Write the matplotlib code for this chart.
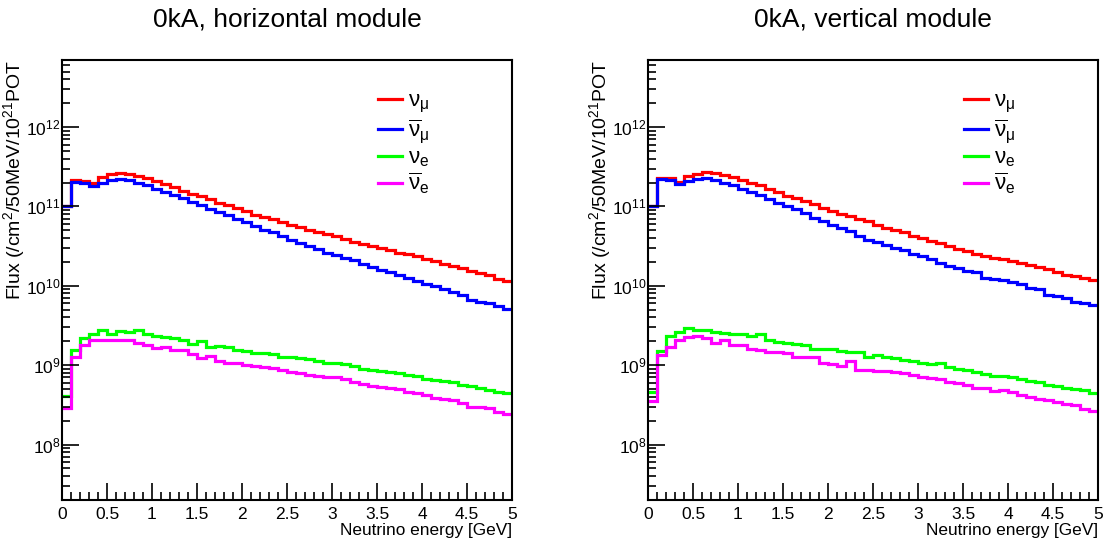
import numpy as np
import matplotlib
matplotlib.use("Agg")
import matplotlib.pyplot as plt
from matplotlib.ticker import MultipleLocator, LogLocator, FuncFormatter, NullFormatter

plt.rcParams['font.family'] = ['Liberation Sans', 'DejaVu Sans']
plt.rcParams['mathtext.fontset'] = 'custom'
plt.rcParams['mathtext.rm'] = 'Liberation Sans'
plt.rcParams['mathtext.it'] = 'Liberation Sans:italic'
plt.rcParams['mathtext.bf'] = 'Liberation Sans:bold'

# ------------------------
# Flux histograms, 0.1 GeV bins from 0 to 5 GeV
# ------------------------
edges = np.linspace(0, 5, 51)

# horizontal module
h_numu = [1.0e11, 2.15e11, 2.1e11, 1.95e11, 2.35e11, 2.55e11, 2.65e11, 2.6e11, 2.45e11, 2.3e11,
          2.09e11, 1.91e11, 1.74e11, 1.58e11, 1.45e11, 1.35e11, 1.23e11, 1.12e11, 1.05e11, 9.55e10,
          8.7e10, 7.9e10, 7.4e10, 6.9e10, 6.3e10, 5.9e10, 5.5e10, 5.1e10, 4.8e10, 4.5e10,
          4.2e10, 3.9e10, 3.6e10, 3.4e10, 3.2e10, 3.0e10, 2.8e10, 2.6e10, 2.5e10, 2.35e10,
          2.2e10, 2.05e10, 1.9e10, 1.8e10, 1.66e10, 1.55e10, 1.45e10, 1.35e10, 1.23e10, 1.15e10]
h_numubar = [1.0e11, 2.05e11, 2.0e11, 1.8e11, 2.0e11, 2.15e11, 2.2e11, 2.15e11, 2.0e11, 1.85e11,
             1.66e11, 1.51e11, 1.38e11, 1.26e11, 1.15e11, 1.05e11, 9.3e10, 8.5e10, 7.8e10, 6.9e10,
             6.3e10, 5.75e10, 5.1e10, 4.7e10, 4.3e10, 3.8e10, 3.5e10, 3.2e10, 2.9e10, 2.6e10,
             2.45e10, 2.25e10, 2.1e10, 1.9e10, 1.75e10, 1.6e10, 1.48e10, 1.35e10, 1.26e10, 1.15e10,
             1.05e10, 9.8e9, 9.1e9, 8.3e9, 7.6e9, 6.6e9, 6.3e9, 6.0e9, 5.5e9, 5.1e9]
h_nue = [4.1e8, 1.55e9, 2.2e9, 2.5e9, 2.75e9, 2.5e9, 2.7e9, 2.6e9, 2.8e9, 2.45e9,
         2.3e9, 2.25e9, 2.2e9, 2.05e9, 1.85e9, 2.0e9, 1.7e9, 1.72e9, 1.68e9, 1.55e9,
         1.52e9, 1.42e9, 1.42e9, 1.37e9, 1.28e9, 1.27e9, 1.22e9, 1.18e9, 1.14e9, 1.08e9,
         1.06e9, 1.03e9, 9.8e8, 9.0e8, 8.8e8, 8.5e8, 8.3e8, 8.0e8, 7.5e8, 7.2e8,
         6.6e8, 6.5e8, 6.4e8, 6.2e8, 5.6e8, 5.4e8, 5.1e8, 4.9e8, 4.6e8, 4.4e8]
h_nuebar = [2.9e8, 1.27e9, 1.8e9, 2.1e9, 2.1e9, 2.08e9, 2.1e9, 2.05e9, 1.88e9, 1.8e9,
            1.65e9, 1.7e9, 1.57e9, 1.55e9, 1.4e9, 1.22e9, 1.32e9, 1.12e9, 1.08e9, 1.05e9,
            1.0e9, 9.7e8, 9.5e8, 9.2e8, 8.7e8, 8.2e8, 7.9e8, 7.6e8, 7.3e8, 7.1e8,
            7.0e8, 6.6e8, 6.2e8, 5.8e8, 5.5e8, 5.3e8, 5.2e8, 5.0e8, 4.6e8, 4.4e8,
            4.2e8, 3.9e8, 3.8e8, 3.6e8, 3.3e8, 3.0e8, 2.95e8, 2.9e8, 2.55e8, 2.45e8]

# vertical module
v_numu = [1.0e11, 2.3e11, 2.3e11, 2.05e11, 2.4e11, 2.6e11, 2.7e11, 2.65e11, 2.5e11, 2.35e11,
          2.15e11, 2.0e11, 1.85e11, 1.65e11, 1.5e11, 1.35e11, 1.27e11, 1.17e11, 1.07e11, 9.6e10,
          8.7e10, 8.1e10, 7.6e10, 7.0e10, 6.5e10, 5.9e10, 5.4e10, 5.0e10, 4.7e10, 4.25e10,
          4.0e10, 3.7e10, 3.45e10, 3.15e10, 2.9e10, 2.75e10, 2.55e10, 2.4e10, 2.25e10, 2.15e10,
          2.05e10, 1.95e10, 1.85e10, 1.75e10, 1.62e10, 1.5e10, 1.38e10, 1.32e10, 1.26e10, 1.2e10]
v_numubar = [1.0e11, 2.2e11, 2.15e11, 1.9e11, 2.1e11, 2.2e11, 2.25e11, 2.15e11, 2.0e11, 1.85e11,
             1.65e11, 1.5e11, 1.38e11, 1.25e11, 1.12e11, 1.0e11, 9.2e10, 8.3e10, 7.2e10, 6.5e10,
             5.9e10, 5.4e10, 4.9e10, 4.2e10, 3.8e10, 3.55e10, 3.25e10, 3.0e10, 2.8e10, 2.55e10,
             2.35e10, 2.15e10, 1.95e10, 1.78e10, 1.66e10, 1.55e10, 1.48e10, 1.26e10, 1.23e10, 1.17e10,
             1.12e10, 1.05e10, 9.5e9, 9.1e9, 7.6e9, 7.4e9, 7.1e9, 6.3e9, 6.0e9, 5.75e9]
v_nue = [4.6e8, 1.5e9, 2.3e9, 2.65e9, 2.9e9, 2.8e9, 2.75e9, 2.6e9, 2.55e9, 2.5e9,
         2.45e9, 2.35e9, 2.45e9, 2.1e9, 1.93e9, 1.9e9, 1.83e9, 1.82e9, 1.62e9, 1.6e9,
         1.6e9, 1.5e9, 1.45e9, 1.45e9, 1.27e9, 1.35e9, 1.27e9, 1.23e9, 1.17e9, 1.12e9,
         1.07e9, 1.02e9, 1.05e9, 9.5e8, 8.9e8, 8.7e8, 8.3e8, 7.8e8, 7.4e8, 7.2e8,
         7.1e8, 6.6e8, 6.3e8, 6.2e8, 5.6e8, 5.4e8, 5.1e8, 5.0e8, 4.8e8, 4.4e8]
v_nuebar = [3.5e8, 1.35e9, 1.67e9, 2.1e9, 2.25e9, 2.35e9, 2.2e9, 1.9e9, 2.1e9, 1.78e9,
            1.8e9, 1.62e9, 1.55e9, 1.48e9, 1.47e9, 1.43e9, 1.27e9, 1.27e9, 1.25e9, 1.07e9,
            1.02e9, 9.8e8, 1.12e9, 8.7e8, 8.6e8, 8.4e8, 8.5e8, 8.3e8, 7.9e8, 7.6e8,
            7.1e8, 6.8e8, 6.6e8, 6.2e8, 5.9e8, 5.6e8, 5.2e8, 5.1e8, 4.7e8, 4.9e8,
            4.6e8, 4.2e8, 4.0e8, 3.8e8, 3.6e8, 3.4e8, 3.2e8, 3.15e8, 2.8e8, 2.65e8]

titles = ["0kA, horizontal module", "0kA, vertical module"]
labels = [r"$\mathrm{\nu}_{\mathrm{\mu}}$", r"$\overline{\mathrm{\nu}}_{\mathrm{\mu}}$",
          r"$\mathrm{\nu}_{\mathrm{e}}$", r"$\overline{\mathrm{\nu}}_{\mathrm{e}}$"]
colors = ["#ff0000", "#0000ff", "#00ff00", "#ff00ff"]

panels = [
    (titles[0], [h_numu, h_numubar, h_nue, h_nuebar]),
    (titles[1], [v_numu, v_numubar, v_nue, v_nuebar]),
]

W, H = 1106, 541
fig = plt.figure(figsize=(W / 100, H / 100), dpi=100)

lefts = [62, 648]
for left, (title, hists) in zip(lefts, panels):
    ax = fig.add_axes([left / W, (H - 500) / H, 450 / W, 440 / H])
    for vals, col, lab in zip(hists, colors, labels):
        assert len(vals) == 50
        ax.stairs(vals, edges, baseline=None, color=col, lw=2.3, label=lab)

    ax.set_yscale("log")
    ax.set_xlim(0, 5)
    ax.set_ylim(2e7, 7e12)

    ax.xaxis.set_major_locator(MultipleLocator(0.5))
    ax.xaxis.set_minor_locator(MultipleLocator(0.1))
    ax.xaxis.set_major_formatter(FuncFormatter(lambda v, p: f"{v:g}"))
    ax.yaxis.set_major_locator(LogLocator(base=10, numticks=20))
    ax.yaxis.set_minor_locator(LogLocator(base=10, subs=np.arange(2, 10), numticks=20))
    ax.yaxis.set_minor_formatter(NullFormatter())

    ax.tick_params(which="both", direction="in", top=False, right=False,
                   labelsize=12.5, width=1.2)
    ax.tick_params(which="major", length=12)
    ax.tick_params(axis="x", which="major", pad=5)
    ax.tick_params(axis="y", which="major", pad=1)
    ax.tick_params(which="minor", length=6)
    for s in ax.spines.values():
        s.set_linewidth(1.5)

    ax.set_xlabel("Neutrino energy [GeV]", fontsize=12.4, loc="right", labelpad=1)
    ax.set_ylabel(r"Flux (/cm$^{2}$/50MeV/10$^{21}$POT", fontsize=14, loc="top")
    ax.yaxis.set_label_coords(-0.077, 1.0)
    ax.set_title(title, fontsize=19, pad=24)

    ax.legend(loc="upper left", bbox_to_anchor=(0.683, 0.95), frameon=False,
              fontsize=16, handlelength=1.05, handletextpad=0.3, labelspacing=0.1,
              borderaxespad=0)

fig.savefig("out.png", dpi=100)
